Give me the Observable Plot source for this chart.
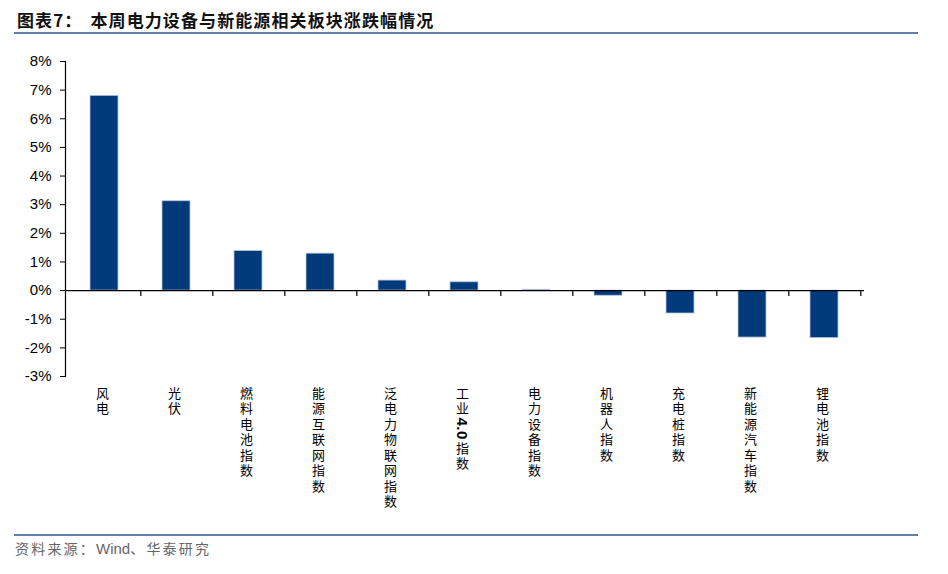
<!DOCTYPE html>
<html><head><meta charset="utf-8">
<script src="https://cdn.jsdelivr.net/npm/d3@7"></script>
<script src="https://cdn.jsdelivr.net/npm/@observablehq/plot@0.6"></script>
<style>
body{margin:0;background:#fff;width:948px;height:574px;position:relative;overflow:hidden;font-family:"Liberation Sans","Noto Sans CJK SC",sans-serif;}
#title{position:absolute;left:17px;top:9px;font-weight:bold;font-size:17px;letter-spacing:1.1px;font-family:"Noto Sans CJK SC",sans-serif;color:#111;line-height:22px;white-space:nowrap;}
.rule{position:absolute;left:14px;width:904px;height:2px;background:#5f7fae;}
#chart{position:absolute;left:0;top:40px;}
#source{position:absolute;left:15px;top:539px;font-size:14px;letter-spacing:2.2px;line-height:20px;color:#666;font-family:"Liberation Sans","Noto Sans CJK SC",sans-serif;}
</style></head>
<body>
<div id="title">图表7：<span style="margin-left:8px">本周电力设备与新能源相关板块涨跌幅情况</span></div>
<div class="rule" style="top:32px"></div>
<div id="chart"></div>
<div class="rule" style="top:534px"></div>
<div id="source">资料来源：<span style="letter-spacing:0;font-size:15px">Wind</span>、华泰研究</div>
<script>
const categories = ["风电","光伏","燃料电池指数","能源互联网指数","泛电力物联网指数","工业4.0指数","电力设备指数","机器人指数","充电桩指数","新能源汽车指数","锂电池指数"];
const changes = [6.8, 3.12, 1.38, 1.29, 0.35, 0.29, 0.03, -0.18, -0.8, -1.64, -1.66];
const yTicks = [-3,-2,-1,0,1,2,3,4,5,6,7,8];
const data = categories.map((name, i) => ({name, value: changes[i]}));

const chart = Plot.plot({
  width: 948, height: 490,
  marginLeft: 65, marginRight: 84, marginTop: 21, marginBottom: 154,
  x: {domain: categories, paddingInner: 0.61, paddingOuter: 0.305, axis: null},
  y: {domain: [-3, 8], axis: null},
  style: {fontFamily: "'Liberation Sans', 'Noto Sans CJK SC', sans-serif", background: "white", color: "#000"},
  marks: [
    Plot.barY(data, {x: "name", y: "value", fill: "#003A7A", stroke: "#b8c4d8", strokeWidth: 0.8}),
    Plot.ruleY([0], {stroke: "#000", strokeWidth: 1.3}),
    Plot.ruleX(categories, {x: d => d, y1: 0, y2: 0, dx: 36.3, insetBottom: -6, stroke: "#000", strokeWidth: 1.2}),
    Plot.axisY({ticks: yTicks, tickFormat: d => d + "%", label: null, tickSize: 5, tickPadding: 9, fontSize: 15, stroke: "#000", fill: "#000"}),
    Plot.frame({anchor: "left", stroke: "#000", strokeWidth: 1.2}),
    Plot.text(categories, {x: d => d, frameAnchor: "bottom", dx: -2, dy: 10, textAnchor: "start", fontSize: 13, fill: "#000", fontFamily: "'Noto Sans CJK SC', sans-serif"})
  ]
});
chart.querySelectorAll('g[aria-label="text"] text').forEach(t => {
  t.style.writingMode = "vertical-rl";
  t.style.letterSpacing = "2.5px";
  const s = t.textContent;
  const m = s.match(/^(.*?)(\d[\d.]*)(.*)$/);
  if (m) {
    t.textContent = "";
    const ns = "http://www.w3.org/2000/svg";
    const a = document.createElementNS(ns, "tspan"); a.textContent = m[1];
    const b = document.createElementNS(ns, "tspan"); b.textContent = m[2];
    b.style.letterSpacing = "0.5px"; b.style.fontFamily = "'Liberation Sans', sans-serif"; b.style.fontSize = "15px"; b.style.fontWeight = "bold";
    const c = document.createElementNS(ns, "tspan"); c.textContent = m[3];
    c.setAttribute("dy", "2");
    t.append(a, b, c);
  }
});
document.getElementById("chart").appendChild(chart);
</script>
</body></html>
